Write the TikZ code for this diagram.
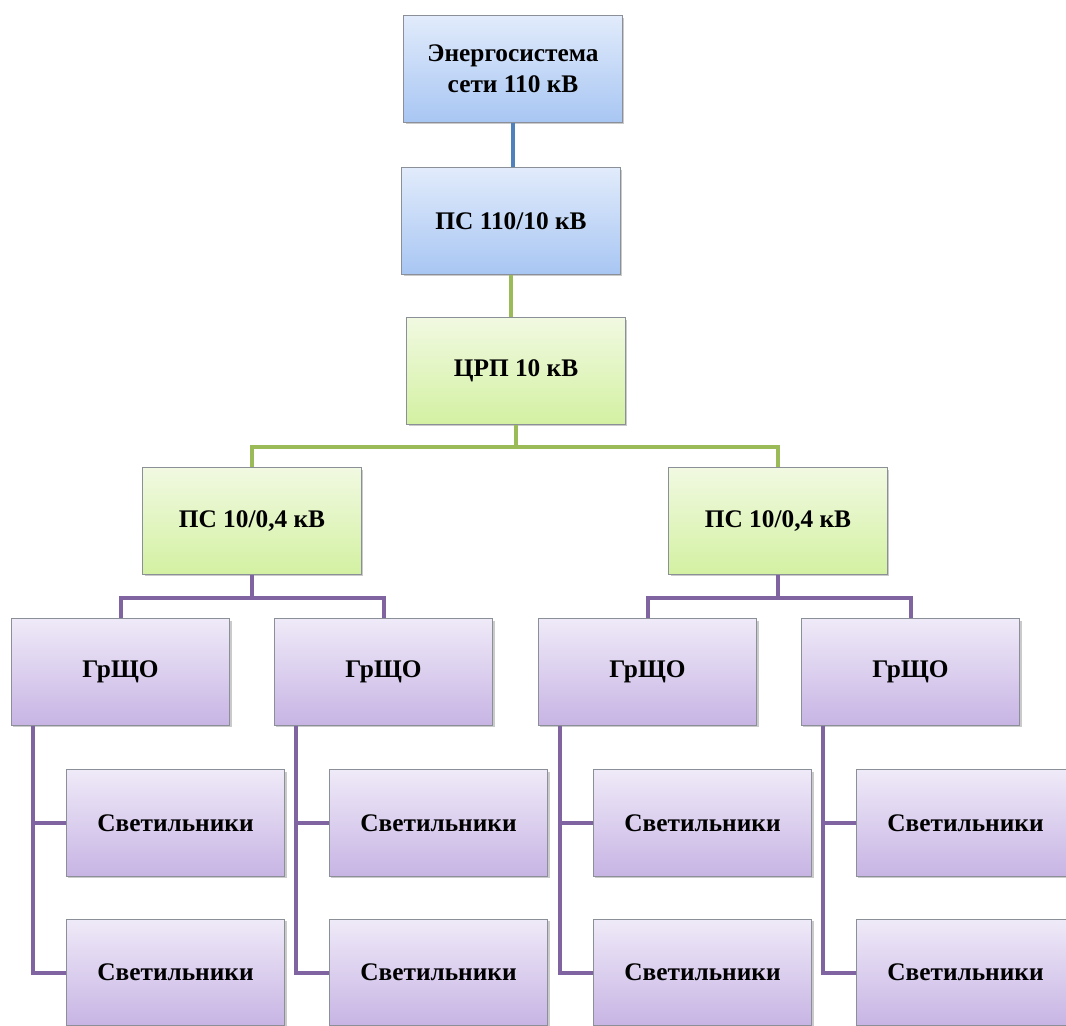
\documentclass[tikz,border=0pt]{standalone}
\usepackage{fontspec}
\setmainfont{Liberation Serif}
\usetikzlibrary{positioning,calc,shadows}
\definecolor{skytop}{HTML}{E1EBFB}
\definecolor{skybot}{HTML}{A8C6F3}
\definecolor{limetop}{HTML}{F1F9E1}
\definecolor{limebot}{HTML}{D3F1A2}
\definecolor{liltop}{HTML}{EFEAF8}
\definecolor{lilbot}{HTML}{C7B4E4}
\definecolor{skyline}{HTML}{4F81BD}
\definecolor{limeline}{HTML}{9BBB59}
\definecolor{lilline}{HTML}{8064A2}
\definecolor{edgegray}{HTML}{8A8F98}
\tikzset{
  unitbox/.style={
    rectangle, draw=edgegray, line width=0.6pt,
    top color=#1top, bottom color=#1bot,
    minimum width=164pt, minimum height=80pt,
    font=\fontsize{19}{23}\selectfont\bfseries, align=center,
    inner sep=2pt,
    drop shadow={shadow xshift=1.5pt, shadow yshift=-1.5pt,
      opacity=0.35, fill=black!60}
  },
  unitbox/.default=sky,
  feeder/.style={line width=3pt, color=#1line},
  feeder/.default=lil,
}
\begin{document}
\begin{tikzpicture}[x=0.75pt, y=-0.75pt]
\useasboundingbox (0,0) rectangle (1066,1025);
\clip (0,0) rectangle (1066,1025);
\node[unitbox] (grid-110) at (513,69) {Энергосистема\\сети 110 кВ};
\node[unitbox] (ps-110) at (511,221) {ПС 110/10 кВ};
\node[unitbox=lime] (crp-10) at (516,371) {ЦРП 10 кВ};
\node[unitbox=lime] (ps-a) at (252,521) {ПС 10/0,4 кВ};
\node[unitbox=lime] (ps-b) at (778,521) {ПС 10/0,4 кВ};
\foreach \n/\x in {a/120.5,b/383.5,c/647.5,d/910.5} {
  \node[unitbox=lil] (grsh-\n) at (\x,672) {ГрЩО};
  \node[unitbox=lil] (svet-\n1) at (\x+55,823) {Светильники};
  \node[unitbox=lil] (svet-\n2) at (\x+55,972.5) {Светильники};
  \draw[feeder] ($(grsh-\n.south west)+(22,0)$) |- (svet-\n1.west);
  \draw[feeder] ($(grsh-\n.south west)+(22,0)$) |- (svet-\n2.west);
}
\draw[feeder=sky] (grid-110.south) -- (grid-110.south |- ps-110.north);
\draw[feeder=lime] (ps-110.south) -- (ps-110.south |- crp-10.north);
\draw[feeder=lime] (crp-10.south) -- ++(0,22) coordinate (bus-10) -| (ps-a.north);
\draw[feeder=lime] (bus-10) -| (ps-b.north);
\draw[feeder] (ps-a.south) -- ++(0,23) coordinate (bus-a) -| (grsh-a.north);
\draw[feeder] (bus-a) -| (grsh-b.north);
\draw[feeder] (ps-b.south) -- ++(0,23) coordinate (bus-b) -| (grsh-c.north);
\draw[feeder] (bus-b) -| (grsh-d.north);
\end{tikzpicture}
\end{document}
